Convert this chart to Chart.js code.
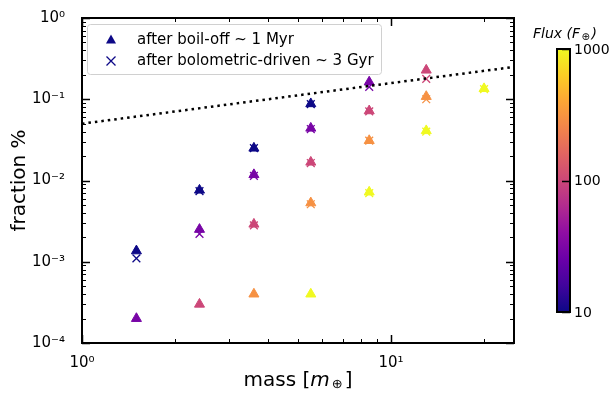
<!DOCTYPE html>
<html>
<head>
<meta charset="utf-8">
<script src="https://cdn.jsdelivr.net/npm/chart.js@4/dist/chart.umd.min.js"></script>
<style>
  html, body { margin: 0; padding: 0; background: #fff; }
</style>
</head>
<body>
<canvas id="myChart" width="610" height="394"></canvas>
<script>
// masses (Earth masses) and the flux levels (colour)
const masses = [1.5, 2.4, 3.6, 5.5, 8.5, 13, 20];
const fluxes = [10, 30, 100, 300, 1000];

// fraction % after boil-off (~1 Myr), one row per flux, aligned with masses
const boilOff = [
  [1.36e-3, 7.6e-3, 0.025, 0.088, null, null, null],
  [2.0e-4, 2.5e-3, 0.0118, 0.044, 0.163, null, null],
  [null, 3.0e-4, 2.9e-3, 0.0168, 0.072, 0.228, null],
  [null, null, 4.0e-4, 5.3e-3, 0.031, 0.108, null],
  [null, null, null, 4.0e-4, 7.2e-3, 0.041, 0.135]
];

// fraction % after bolometric-driven loss (~3 Gyr)
const bolometric = [
  [1.1e-3, 7.4e-3, 0.025, 0.087, null, null, null],
  [null, 2.2e-3, 0.0114, 0.043, 0.142, null, null],
  [null, null, 2.8e-3, 0.0164, 0.071, 0.178, null],
  [null, null, null, 5.1e-3, 0.031, 0.100, null],
  [null, null, null, null, 7.0e-3, 0.040, 0.133]
];

// dotted reference line
const lineMass = [1, 25];
const lineFrac = [0.05, 0.25];

const xTicks = [1, 10];
const xTickLabels = ['10\u2070', '10\u00b9'];
const yTicks = [1e-4, 1e-3, 1e-2, 1e-1, 1];
const yTickLabels = ['10\u207b\u2074', '10\u207b\u00b3', '10\u207b\u00b2', '10\u207b\u00b9', '10\u2070'];
const cbarTicks = [10, 100, 1000];
const cbarTickLabels = ['10', '100', '1000'];

// plasma colormap samples
const plasma = ['#0d0887', '#41049d', '#6a00a8', '#8f0da4', '#b12a90', '#cc4778',
                '#e16462', '#f2844b', '#fca636', '#fcce25', '#f0f921'];

function hex2rgb(h) {
  return [parseInt(h.slice(1, 3), 16), parseInt(h.slice(3, 5), 16), parseInt(h.slice(5, 7), 16)];
}
function plasmaAt(t) {
  t = Math.max(0, Math.min(1, t));
  const p = t * (plasma.length - 1);
  const i = Math.min(Math.floor(p), plasma.length - 2);
  const f = p - i;
  const a = hex2rgb(plasma[i]), b = hex2rgb(plasma[i + 1]);
  const c = a.map((v, k) => Math.round(v + (b[k] - v) * f));
  return 'rgb(' + c.join(',') + ')';
}
function fluxColor(F) {
  return plasmaAt((Math.log10(F) - 1) / 2);
}

function toPoints(row) {
  const pts = [];
  row.forEach((v, j) => { if (v !== null) pts.push({ x: masses[j], y: v }); });
  return pts;
}

const datasets = [];
fluxes.forEach((F, i) => {
  const col = fluxColor(F);
  datasets.push({
    type: 'scatter',
    label: 'boil-off F=' + F,
    data: toPoints(boilOff[i]),
    pointStyle: 'triangle',
    pointRadius: 5.8,
    backgroundColor: col,
    borderColor: col,
    borderWidth: 1,
    order: 3
  });
  datasets.push({
    type: 'scatter',
    label: 'bolometric F=' + F,
    data: toPoints(bolometric[i]),
    pointStyle: 'crossRot',
    pointRadius: 5.5,
    backgroundColor: col,
    borderColor: col,
    borderWidth: 1.3,
    order: 2
  });
});
datasets.push({
  type: 'line',
  label: 'limit',
  data: lineMass.map((m, k) => ({ x: m, y: lineFrac[k] })),
  borderColor: '#000',
  borderWidth: 2.5,
  borderDash: [2.5, 4],
  borderCapStyle: 'butt',
  pointRadius: 0,
  fill: false,
  order: 1
});

const FONT = "'DejaVu Sans', sans-serif";

// inward ticks on all four sides + frame, legend, x title, colorbar
const framePlugin = {
  id: 'frame',
  afterDatasetsDraw(chart) {
    const ctx = chart.ctx, a = chart.chartArea;
    const xs = chart.scales.x, ys = chart.scales.y;
    ctx.save();
    ctx.strokeStyle = '#000';
    ctx.lineWidth = 1;
    const xMinor = [];
    for (let d = 1; d <= 10; d *= 10)
      for (let k = 2; k <= 9; k++) if (k * d <= xs.max) xMinor.push(k * d);
    const yMinor = [];
    for (let d = 1e-4; d < 1; d *= 10)
      for (let k = 2; k <= 9; k++) yMinor.push(k * d);
    function xt(v, len) {
      const p = Math.round(xs.getPixelForValue(v)) + 0.5;
      ctx.beginPath();
      ctx.moveTo(p, a.bottom); ctx.lineTo(p, a.bottom - len);
      ctx.moveTo(p, a.top); ctx.lineTo(p, a.top + len);
      ctx.stroke();
    }
    function yt(v, len) {
      const p = Math.round(ys.getPixelForValue(v)) + 0.5;
      ctx.beginPath();
      ctx.moveTo(a.left, p); ctx.lineTo(a.left + len, p);
      ctx.moveTo(a.right, p); ctx.lineTo(a.right - len, p);
      ctx.stroke();
    }
    xMinor.forEach(v => xt(v, 4));
    yMinor.forEach(v => yt(v, 4));
    ctx.lineWidth = 1.5;
    xTicks.forEach(v => xt(v, 8));
    yTicks.forEach(v => yt(v, 8));
    ctx.lineWidth = 2;
    ctx.strokeRect(a.left, a.top, a.right - a.left, a.bottom - a.top);
    ctx.restore();
  },
  afterDraw(chart) {
    const ctx = chart.ctx, a = chart.chartArea;
    ctx.save();
    // legend
    const lx = a.left + 5, ly = a.top + 6, lw = 294, lh = 50;
    ctx.fillStyle = 'rgba(255,255,255,0.85)';
    ctx.strokeStyle = '#d0d0d0';
    ctx.lineWidth = 1;
    ctx.beginPath();
    ctx.roundRect(lx + 0.5, ly + 0.5, lw, lh, 3);
    ctx.fill();
    ctx.stroke();
    const navy = fluxColor(fluxes[0]);
    ctx.fillStyle = navy;
    ctx.strokeStyle = navy;
    const tx = lx + 24, ty1 = ly + 16, ty2 = ly + 37;
    ctx.beginPath();
    ctx.moveTo(tx, ty1 - 5.5);
    ctx.lineTo(tx + 5, ty1 + 3.5);
    ctx.lineTo(tx - 5, ty1 + 3.5);
    ctx.closePath();
    ctx.fill();
    ctx.lineWidth = 1.3;
    ctx.beginPath();
    ctx.moveTo(tx - 4.5, ty2 - 4.5); ctx.lineTo(tx + 4.5, ty2 + 4.5);
    ctx.moveTo(tx + 4.5, ty2 - 4.5); ctx.lineTo(tx - 4.5, ty2 + 4.5);
    ctx.stroke();
    ctx.fillStyle = '#000';
    ctx.font = '15px ' + FONT;
    ctx.textBaseline = 'middle';
    ctx.textAlign = 'left';
    ctx.fillText('after boil-off ~ 1 Myr', lx + 50, ty1);
    ctx.fillText('after bolometric-driven ~ 3 Gyr', lx + 50, ty2);

    // x-axis title: mass [m_⊕]
    const parts = [
      ['mass [', '20px ' + FONT, 0],
      ['m', 'italic 20px ' + FONT, 0],
      ['\u2295', '13px ' + FONT, 4],
      [']', '20px ' + FONT, 0]
    ];
    let total = 0;
    parts.forEach(p => { ctx.font = p[1]; total += ctx.measureText(p[0]).width + (p[0] === '\u2295' ? 4 : 0); });
    let cx = (a.left + a.right) / 2 - total / 2;
    const cy = 381;
    parts.forEach(p => {
      ctx.font = p[1];
      const extra = p[0] === '\u2295' ? 2 : 0;
      ctx.fillText(p[0], cx + extra, cy + p[2]);
      cx += ctx.measureText(p[0]).width + extra * 2;
    });

    // colorbar
    const bx = 557, bw = 13, bTop = 49, bBot = 312;
    const g = ctx.createLinearGradient(0, bBot, 0, bTop);
    plasma.forEach((c, k) => g.addColorStop(k / (plasma.length - 1), c));
    ctx.fillStyle = g;
    ctx.fillRect(bx, bTop, bw, bBot - bTop);
    ctx.strokeStyle = '#000';
    ctx.lineWidth = 2;
    ctx.strokeRect(bx, bTop, bw, bBot - bTop);
    ctx.fillStyle = '#000';
    ctx.font = '14px ' + FONT;
    ctx.textAlign = 'left';
    ctx.textBaseline = 'middle';
    const lo = Math.log10(cbarTicks[0]), hi = Math.log10(cbarTicks[cbarTicks.length - 1]);
    cbarTicks.forEach((v, k) => {
      const y = bBot - (Math.log10(v) - lo) / (hi - lo) * (bBot - bTop);
      ctx.fillText(cbarTickLabels[k], bx + bw + 4, y + 1);
      ctx.lineWidth = 1.5;
      ctx.beginPath();
      ctx.moveTo(bx + bw, Math.round(y) + 0.5);
      ctx.lineTo(bx + bw - 8, Math.round(y) + 0.5);
      ctx.stroke();
    });
    // colorbar title: Flux (F_⊕)
    const tp = [
      ['Flux (F', 'italic 14px ' + FONT, 0],
      ['\u2295', 'italic 10px ' + FONT, 3],
      [')', 'italic 14px ' + FONT, 0]
    ];
    let tw = 0;
    tp.forEach(p => { ctx.font = p[1]; tw += ctx.measureText(p[0]).width + (p[0] === '\u2295' ? 3 : 0); });
    let tx0 = 565 - tw / 2;
    tp.forEach(p => {
      ctx.font = p[1];
      const extra = p[0] === '\u2295' ? 1.5 : 0;
      ctx.fillText(p[0], tx0 + extra, 34 + p[2]);
      tx0 += ctx.measureText(p[0]).width + extra * 2;
    });
    ctx.restore();
  }
};

const ctx = document.getElementById('myChart').getContext('2d');
const chart = new Chart(ctx, {
  data: { datasets: datasets },
  options: {
    responsive: false,
    animation: false,
    layout: { padding: { top: 17, right: 96, left: 0, bottom: 0 } },
    plugins: {
      legend: { display: false },
      tooltip: { enabled: false }
    },
    scales: {
      x: {
        type: 'logarithmic',
        position: 'bottom',
        min: 1,
        max: 25,
        grid: { display: false },
        border: { display: false },
        afterBuildTicks: s => { s.ticks = xTicks.map(v => ({ value: v })); },
        afterFit: s => { s.height = 51; },
        ticks: {
          autoSkip: false,
          maxRotation: 0,
          padding: 3,
          color: '#000',
          font: { family: FONT, size: 15 },
          callback: v => xTickLabels[xTicks.indexOf(v)]
        }
      },
      y: {
        type: 'logarithmic',
        min: 1e-4,
        max: 1,
        grid: { display: false },
        border: { display: false },
        afterBuildTicks: s => { s.ticks = yTicks.map(v => ({ value: v })); },
        afterFit: s => { s.width = 82; },
        ticks: {
          autoSkip: false,
          padding: 9,
          color: '#000',
          font: { family: FONT, size: 15 },
          callback: v => yTickLabels[yTicks.findIndex(t => Math.abs(t - v) / t < 1e-6)]
        },
        title: {
          display: true,
          text: 'fraction %',
          color: '#000',
          font: { family: FONT, size: 20 },
          padding: { top: 8, bottom: 0 }
        }
      }
    }
  },
  plugins: [framePlugin]
});
</script>
</body>
</html>
